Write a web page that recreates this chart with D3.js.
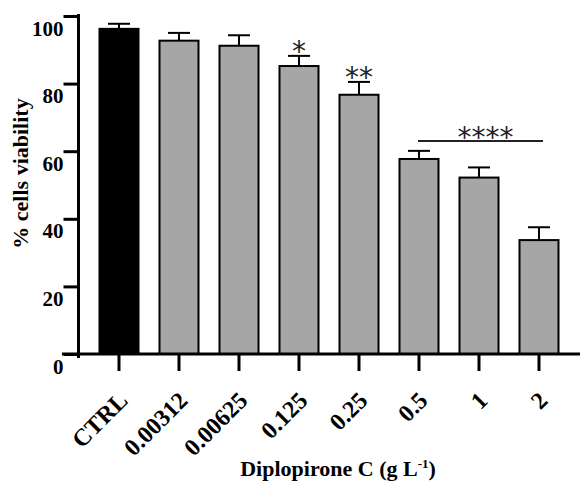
<!DOCTYPE html>
<html>
<head>
<meta charset="utf-8">
<script src="https://cdn.jsdelivr.net/npm/d3@7"></script>
<style>
  body { margin: 0; background: #fff; }
  svg text { font-family: "Liberation Serif", "Times New Roman", serif; font-weight: bold; }
</style>
</head>
<body>
<div class="chart"></div>
<script>
const categories = ["CTRL", "0.00312", "0.00625", "0.125", "0.25", "0.5", "1", "2"];
const viability = [96.2, 92.7, 91.2, 85.2, 76.7, 57.7, 52.2, 33.7];
const sem = [1.5, 2.3, 3.1, 3.0, 3.8, 2.4, 3.0, 3.8];
const barColors = ["#000000", "#a6a6a6", "#a6a6a6", "#a6a6a6", "#a6a6a6", "#a6a6a6", "#a6a6a6", "#a6a6a6"];
const yTicks = [0, 20, 40, 60, 80, 100];
const marks = [
    { from: "0.125", label: "*" },
    { from: "0.25", label: "**" }
];
const groupMark = { from: "0.5", to: "2", label: "****" };

const width = 580, height = 484;

const svg = d3.select(".chart")
    .append("svg")
    .attr("width", width)
    .attr("height", height);

const x = d3.scaleBand()
    .domain(categories)
    .range([89, 569])
    .paddingInner(0.35)
    .paddingOuter(0.175);

const y = d3.scaleLinear()
    .domain([0, 100])
    .range([354, 16]);

// bars
svg.append("g")
    .selectAll("rect")
    .data(categories)
    .enter().append("rect")
    .attr("x", (d) => x(d))
    .attr("y", (d, i) => y(viability[i]))
    .attr("width", x.bandwidth())
    .attr("height", (d, i) => y(0) - y(viability[i]))
    .style("fill", (d, i) => barColors[i])
    .style("stroke", "#000")
    .style("stroke-width", 2);

// error bars (upper only)
const err = svg.append("g")
    .style("stroke", "#000")
    .style("stroke-width", 2);

categories.forEach((c, i) => {
    const cx = x(c) + x.bandwidth() / 2;
    err.append("line")
        .attr("x1", cx).attr("x2", cx)
        .attr("y1", y(viability[i])).attr("y2", y(viability[i] + sem[i]));
    err.append("line")
        .attr("x1", cx - 11).attr("x2", cx + 11)
        .attr("y1", y(viability[i] + sem[i])).attr("y2", y(viability[i] + sem[i]));
});

// significance stars
const starStyle = (sel) => sel
    .attr("text-anchor", "middle")
    .style("font-family", "'DejaVu Sans', sans-serif")
    .style("font-weight", "normal")
    .style("font-size", "28px")
    .style("fill", "#222");

marks.forEach((m) => {
    const i = categories.indexOf(m.from);
    svg.append("text")
        .attr("x", x(m.from) + x.bandwidth() / 2)
        .attr("y", y(viability[i] + sem[i]) + 5)
        .call(starStyle)
        .text(m.label);
});

const gc1 = x(groupMark.from) + x.bandwidth() / 2;
const gc2 = x(groupMark.to) + x.bandwidth() / 2;
svg.append("line")
    .attr("x1", gc1 - 1)
    .attr("x2", gc2 + 4)
    .attr("y1", 141).attr("y2", 141)
    .style("stroke", "#222")
    .style("stroke-width", 2);
svg.append("text")
    .attr("x", (gc1 + gc2) / 2 + 6.5)
    .attr("y", 147)
    .call(starStyle)
    .text(groupMark.label);

// y axis
const yAxis = svg.append("g")
    .attr("transform", "translate(78.5, 0)")
    .call(d3.axisLeft(y).tickValues(yTicks).tickSize(15).tickPadding(0));
yAxis.select(".domain").remove();
yAxis.selectAll(".tick line").style("stroke", "#000").style("stroke-width", 3);
yAxis.selectAll(".tick text")
    .attr("x", -15)
    .attr("dy", 19)
    .style("font-size", "21px")
    .style("fill", "#000");
svg.append("line")
    .attr("x1", 78.5).attr("x2", 78.5)
    .attr("y1", 14).attr("y2", 358)
    .style("stroke", "#000")
    .style("stroke-width", 3);

// x axis
const xAxis = svg.append("g")
    .attr("transform", "translate(0, 354)")
    .call(d3.axisBottom(x).tickSize(17));
xAxis.select(".domain").remove();
xAxis.selectAll(".tick line").style("stroke", "#000").style("stroke-width", 3);
xAxis.selectAll(".tick text")
    .attr("x", 0).attr("y", 0).attr("dy", null)
    .attr("transform", "translate(10, 48) rotate(-45)")
    .attr("text-anchor", "end")
    .style("font-size", "24px")
    .style("fill", "#000");
svg.append("line")
    .attr("x1", 62).attr("x2", 580)
    .attr("y1", 354).attr("y2", 354)
    .style("stroke", "#000")
    .style("stroke-width", 3);

// axis titles
svg.append("text")
    .attr("transform", "translate(28, 173.5) rotate(-90)")
    .attr("text-anchor", "middle")
    .style("font-size", "22px")
    .text("% cells viability");

const xt = svg.append("text")
    .attr("x", 338)
    .attr("y", 476)
    .attr("text-anchor", "middle")
    .style("font-size", "22px")
    .text("Diplopirone C (g L");
xt.append("tspan")
    .attr("dy", -8)
    .style("font-size", "13px")
    .text("-1");
xt.append("tspan")
    .attr("dy", 8)
    .text(")");
</script>
</body>
</html>
